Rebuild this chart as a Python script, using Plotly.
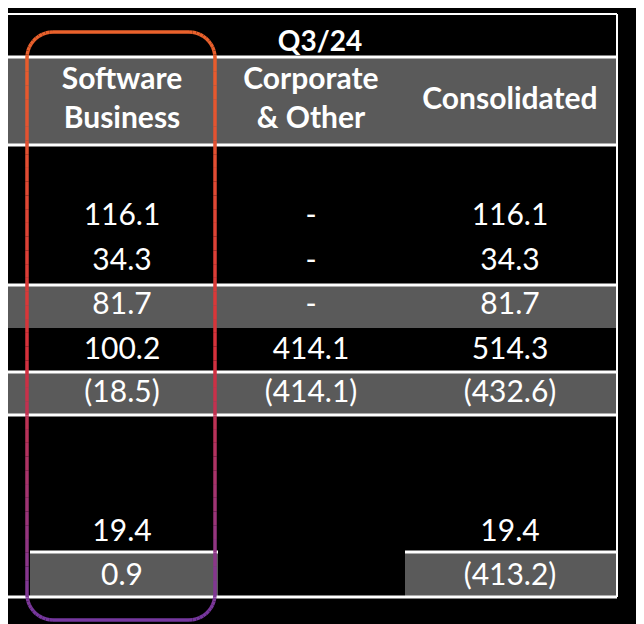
import plotly.graph_objects as go
import numpy as np

period = "Q3/24"
columns = ["Software<br>Business", "Corporate<br>& Other", "Consolidated"]
software = ["116.1", "34.3", "81.7", "100.2", "(18.5)", "19.4", "0.9"]
corporate = ["-", "-", "-", "414.1", "(414.1)", "", ""]
consolidated = ["116.1", "34.3", "81.7", "514.3", "(432.6)", "19.4", "(413.2)"]

col_x = [122, 311, 510]
row_y = [217, 262, 306, 351, 394, 533, 577]
W, H = 644, 624
grey = "#5a5a5a"
FONT = "Lato"

fig = go.Figure()
shapes = []
def rect(x0, y0, x1, y1, color):
    shapes.append(dict(type="rect", xref="x", yref="y", x0=x0, y0=y0, x1=x1, y1=y1,
                       fillcolor=color, line=dict(width=0), layer="below"))
def line(x0, y0, x1, y1, color="white", w=3):
    shapes.append(dict(type="line", xref="x", yref="y", x0=x0, y0=y0, x1=x1, y1=y1,
                       line=dict(color=color, width=w)))

rect(0, 58, 617, 145, grey)
rect(0, 285, 617, 328, grey)
rect(0, 373, 617, 415, grey)
rect(30, 552, 218, 597, grey)
rect(405, 552, 617, 597, grey)
line(0, 14, 617, 14, w=2)
line(617, 14, 617, 597, w=2)
line(0, 57, 617, 57)
line(0, 145, 617, 145)
line(0, 285, 617, 285)
line(0, 372, 617, 372)
line(0, 415, 617, 415)
line(30, 552, 218, 552)
line(405, 552, 617, 552)
line(0, 597, 617, 597)

# gradient rounded rectangle
x0r, x1r, y0r, y1r, r = 27, 215, 32, 620, 26
pts = []
def arc(cx, cy, a0, a1):
    for a in np.linspace(a0, a1, 12):
        pts.append((cx + r*np.cos(a), cy + r*np.sin(a)))
arc(x0r+r, y0r+r, np.pi, 1.5*np.pi)
arc(x1r-r, y0r+r, 1.5*np.pi, 2*np.pi)
for yy in np.linspace(y0r+r, y1r-r, 40):
    pts.append((x1r, yy))
arc(x1r-r, y1r-r, 0, 0.5*np.pi)
arc(x0r+r, y1r-r, 0.5*np.pi, np.pi)
for yy in np.linspace(y1r-r, y0r+r, 40):
    pts.append((x0r, yy))
pts.append(pts[0])
stops = [(0, (234, 98, 44)), (0.55, (214, 48, 60)), (1, (118, 56, 160))]
def col(t):
    for (t0, c0), (t1, c1) in zip(stops, stops[1:]):
        if t <= t1:
            f = (t - t0) / (t1 - t0)
            return "rgb(%d,%d,%d)" % tuple(int(a + (b - a)*f) for a, b in zip(c0, c1))
    return "rgb(118,56,160)"
for (ax, ay), (bx, by) in zip(pts, pts[1:]):
    t = ((ay + by)/2 - y0r) / (y1r - y0r)
    line(ax, ay, bx, by, col(min(max(t, 0), 1)), 3.5)

fig.add_trace(go.Scatter(x=[320], y=[44], text=[f"<b>{period}</b>"], mode="text",
                         textfont=dict(color="white", size=28, family=FONT)))
fig.add_trace(go.Scatter(x=col_x, y=[101]*3, text=[f"<b>{c}</b>" for c in columns], mode="text",
                         textfont=dict(color="white", size=30, family=FONT)))
for cx, vals in zip(col_x, [software, corporate, consolidated]):
    fig.add_trace(go.Scatter(x=[cx]*len(vals), y=row_y, text=vals, mode="text",
                             textfont=dict(color="white", size=30, family=FONT)))

fig.update_layout(width=W, height=H, margin=dict(l=0, r=0, t=0, b=0),
                  paper_bgcolor="black", plot_bgcolor="black", showlegend=False,
                  shapes=shapes,
                  xaxis=dict(range=[8, W + 8], visible=False, fixedrange=True),
                  yaxis=dict(range=[H + 8, 8], visible=False, fixedrange=True))
fig.write_html("out.html")
